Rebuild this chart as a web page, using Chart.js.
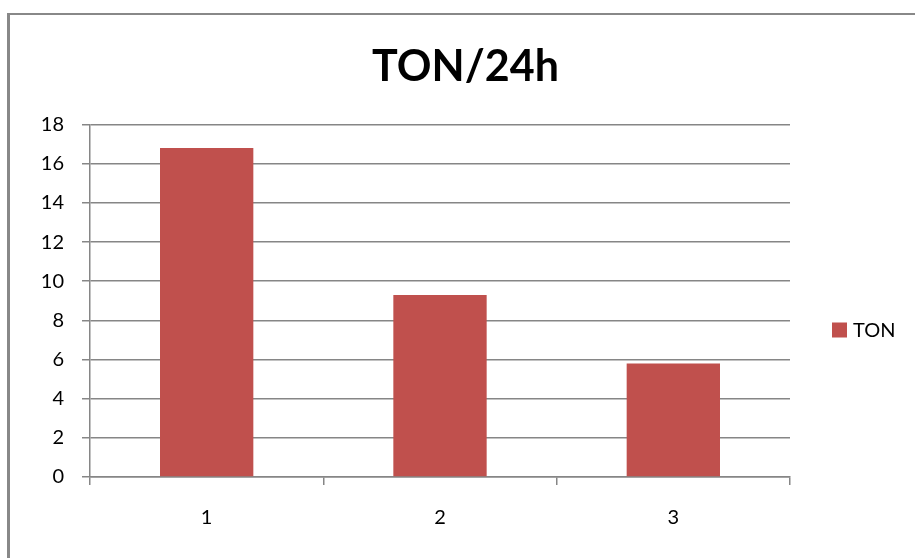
<!DOCTYPE html>
<html>
<head>
<meta charset="utf-8">
<script src="https://cdn.jsdelivr.net/npm/chart.js@4"></script>
<style>
  html, body { margin: 0; padding: 0; background: #fff; }
  #wrap { position: relative; width: 915px; height: 558px; overflow: hidden; }
  #frame {
    position: absolute; left: 7px; top: 13px; width: 920px; height: 560px;
    border-left: 3px solid #888; border-top: 2px solid #888;
    pointer-events: none;
  }
  canvas { position: absolute; left: 0; top: 0; }
</style>
</head>
<body>
<div id="wrap">
  <canvas id="c" width="915" height="558"></canvas>
  <div id="frame"></div>
</div>
<script>
// Daily tonnage per run
const categories = ['1', '2', '3'];
const seriesName = 'TON';
const tonValues = [16.8, 9.3, 5.8];
const yTicks = [0, 2, 4, 6, 8, 10, 12, 14, 16, 18];

const BAR = '#C0504D';
const GRID = '#868686';
const FONT = 'Lato, "Liberation Sans", sans-serif';

// Centre the title across the whole frame (plot + legend column)
const wideTitle = {
  id: 'wideTitle',
  afterLayout(chart) {
    const t = chart.titleBlock;
    if (t) {
      t.left = 16;
      t.right = 915;
      t.width = t.right - t.left;
    }
  }
};

// Legend on the right, vertically centred on the page
const sideLegend = {
  id: 'sideLegend',
  afterDraw(chart) {
    const ctx = chart.ctx;
    const items = Chart.defaults.plugins.legend.labels.generateLabels(chart);
    const cy = 330;
    ctx.save();
    items.forEach((it, i) => {
      const y = cy + i * 26;
      ctx.fillStyle = it.fillStyle;
      ctx.fillRect(832, y - 7.5, 15, 15);
      ctx.fillStyle = '#000';
      ctx.font = '20px ' + FONT;
      ctx.textBaseline = 'middle';
      ctx.textAlign = 'left';
      ctx.fillText(it.text, 853, y + 1);
    });
    ctx.restore();
  }
};

new Chart(document.getElementById('c'), {
  type: 'bar',
  data: {
    labels: categories,
    datasets: [{
      label: seriesName,
      data: tonValues,
      backgroundColor: BAR,
      borderWidth: 0,
      barPercentage: 0.4,
      categoryPercentage: 1.0
    }]
  },
  options: {
    responsive: false,
    animation: false,
    layout: { padding: { left: 10, right: 125, top: 0, bottom: 0 } },
    plugins: {
      legend: { display: false },
      tooltip: { enabled: false },
      title: {
        display: true,
        text: 'TON/24h',
        color: '#000',
        font: { family: FONT, size: 43, weight: 'bold', lineHeight: 1.2 },
        padding: { top: 41, bottom: 32 }
      }
    },
    scales: {
      x: {
        offset: true,
        grid: { display: true, drawOnChartArea: false, drawTicks: true, tickLength: 8, color: GRID, lineWidth: 1.5 },
        border: { display: true, color: GRID, width: 1.5 },
        ticks: { color: '#000', font: { family: FONT, size: 20 }, padding: 21 },
        afterFit(scale) { scale.height = 81; }
      },
      y: {
        min: 0,
        max: 18,
        afterBuildTicks(scale) { scale.ticks = yTicks.map(v => ({ value: v })); },
        grid: { color: GRID, lineWidth: 1.5, tickLength: 8, drawTicks: true },
        border: { display: true, color: GRID, width: 1.5 },
        ticks: { color: '#000', font: { family: FONT, size: 20 }, padding: 18 },
        afterFit(scale) { scale.width = 80; }
      }
    }
  },
  plugins: [wideTitle, sideLegend]
});
</script>
</body>
</html>
